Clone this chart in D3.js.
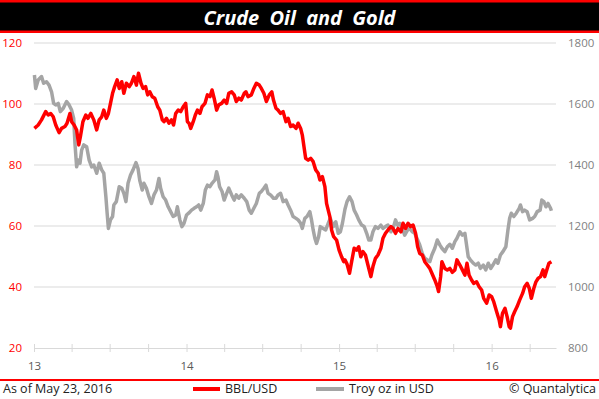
<!DOCTYPE html>
<html>
<head>
<meta charset="utf-8">
<script src="https://cdn.jsdelivr.net/npm/d3@7"></script>
<style>
  body { margin: 0; background: #fff; }
  text { font-family: "Open Sans", "Noto Sans", sans-serif; }
</style>
</head>
<body>
<svg id="chart"></svg>
<script>
// Crude oil, BBL/USD (date, close)
const oilData = [
  ["2013-01-02", 92.0], ["2013-01-11", 93.1], ["2013-01-19", 94.8], ["2013-01-29", 97.5],
  ["2013-02-04", 96.4], ["2013-02-10", 96.9], ["2013-02-16", 95.8], ["2013-02-22", 93.1],
  ["2013-03-02", 90.6], ["2013-03-08", 92.0], ["2013-03-16", 92.6], ["2013-03-21", 93.7],
  ["2013-03-28", 96.9], ["2013-04-01", 94.2], ["2013-04-07", 93.1], ["2013-04-13", 91.5],
  ["2013-04-18", 86.6], ["2013-04-22", 89.3], ["2013-04-28", 94.2], ["2013-05-05", 96.4],
  ["2013-05-10", 95.3], ["2013-05-17", 96.9], ["2013-05-24", 94.8], ["2013-05-31", 91.5],
  ["2013-06-06", 94.8], ["2013-06-12", 95.8], ["2013-06-17", 98.0], ["2013-06-23", 95.3],
  ["2013-06-28", 96.9], ["2013-07-03", 100.2], ["2013-07-08", 103.5], ["2013-07-13", 105.7],
  ["2013-07-19", 107.9], ["2013-07-24", 105.1], ["2013-07-30", 107.3], ["2013-08-04", 103.5],
  ["2013-08-10", 106.8], ["2013-08-17", 105.7], ["2013-08-22", 106.8], ["2013-08-28", 109.0],
  ["2013-09-03", 106.2], ["2013-09-08", 110.1], ["2013-09-14", 106.8], ["2013-09-19", 105.1],
  ["2013-09-25", 105.7], ["2013-09-30", 103.0], ["2013-10-05", 104.0], ["2013-10-11", 102.4],
  ["2013-10-17", 101.9], ["2013-10-24", 99.1], ["2013-10-29", 98.0], ["2013-11-04", 94.8],
  ["2013-11-08", 94.2], ["2013-11-14", 95.3], ["2013-11-20", 93.7], ["2013-11-26", 94.8],
  ["2013-12-01", 93.1], ["2013-12-06", 96.9], ["2013-12-12", 98.0], ["2013-12-18", 97.5],
  ["2013-12-24", 99.1], ["2013-12-30", 100.2], ["2014-01-03", 94.2], ["2014-01-07", 93.7],
  ["2014-01-11", 92.0], ["2014-01-17", 94.2], ["2014-01-22", 96.4], ["2014-01-27", 98.0],
  ["2014-02-02", 96.9], ["2014-02-07", 99.1], ["2014-02-14", 100.2], ["2014-02-20", 103.0],
  ["2014-02-26", 102.4], ["2014-03-03", 104.6], ["2014-03-08", 101.9], ["2014-03-14", 98.0],
  ["2014-03-19", 99.7], ["2014-03-26", 100.2], ["2014-04-01", 101.3], ["2014-04-07", 100.2],
  ["2014-04-12", 103.5], ["2014-04-19", 104.0], ["2014-04-25", 103.0], ["2014-04-30", 100.8],
  ["2014-05-06", 101.9], ["2014-05-12", 101.3], ["2014-05-19", 103.5], ["2014-05-23", 104.0],
  ["2014-05-28", 102.4], ["2014-06-05", 103.0], ["2014-06-11", 105.1], ["2014-06-17", 106.8],
  ["2014-06-24", 106.2], ["2014-06-29", 105.1], ["2014-07-05", 103.5], ["2014-07-11", 100.8],
  ["2014-07-18", 103.0], ["2014-07-24", 104.0], ["2014-07-28", 101.3], ["2014-08-03", 98.6],
  ["2014-08-08", 98.0], ["2014-08-14", 96.9], ["2014-08-20", 97.5], ["2014-08-27", 94.2],
  ["2014-09-01", 95.3], ["2014-09-07", 92.6], ["2014-09-13", 93.1], ["2014-09-20", 92.0],
  ["2014-09-25", 93.7], ["2014-10-01", 92.0], ["2014-10-05", 89.8], ["2014-10-09", 86.0],
  ["2014-10-13", 82.2], ["2014-10-19", 81.6], ["2014-10-25", 82.2], ["2014-10-31", 81.1],
  ["2014-11-06", 78.4], ["2014-11-12", 77.3], ["2014-11-16", 75.1], ["2014-11-22", 76.2],
  ["2014-11-28", 72.9], ["2014-12-02", 67.4], ["2014-12-06", 65.2], ["2014-12-10", 63.0],
  ["2014-12-14", 58.7], ["2014-12-19", 56.5], ["2014-12-26", 55.4], ["2015-01-01", 52.1],
  ["2015-01-07", 49.9], ["2015-01-12", 48.3], ["2015-01-15", 48.9], ["2015-01-20", 47.5],
  ["2015-01-26", 44.5], ["2015-01-31", 48.3], ["2015-02-06", 52.7], ["2015-02-12", 52.1],
  ["2015-02-17", 53.2], ["2015-02-22", 49.9], ["2015-02-27", 51.6], ["2015-03-05", 50.5],
  ["2015-03-11", 47.2], ["2015-03-18", 43.4], ["2015-03-23", 46.7], ["2015-03-29", 49.4],
  ["2015-04-04", 50.5], ["2015-04-11", 52.7], ["2015-04-16", 56.0], ["2015-04-22", 57.6],
  ["2015-04-28", 58.7], ["2015-05-05", 59.8], ["2015-05-10", 59.2], ["2015-05-16", 57.6],
  ["2015-05-22", 59.2], ["2015-05-29", 58.1], ["2015-06-03", 60.9], ["2015-06-09", 59.2],
  ["2015-06-15", 60.9], ["2015-06-21", 59.8], ["2015-06-27", 60.3], ["2015-07-03", 57.6],
  ["2015-07-08", 53.2], ["2015-07-13", 51.0], ["2015-07-19", 50.5], ["2015-07-25", 48.3],
  ["2015-07-31", 47.2], ["2015-08-06", 46.1], ["2015-08-11", 44.5], ["2015-08-18", 42.3],
  ["2015-08-24", 40.1], ["2015-08-27", 38.5], ["2015-09-01", 43.4], ["2015-09-04", 48.3],
  ["2015-09-11", 46.1], ["2015-09-17", 45.6], ["2015-09-23", 46.1], ["2015-09-29", 44.8],
  ["2015-10-05", 45.6], ["2015-10-10", 48.9], ["2015-10-17", 47.2], ["2015-10-23", 45.6],
  ["2015-10-29", 43.9], ["2015-11-03", 47.8], ["2015-11-08", 43.9], ["2015-11-14", 42.3],
  ["2015-11-19", 41.2], ["2015-11-26", 41.7], ["2015-12-02", 40.1], ["2015-12-08", 39.0],
  ["2015-12-13", 36.3], ["2015-12-20", 34.7], ["2015-12-26", 37.4], ["2016-01-01", 36.8],
  ["2016-01-06", 35.2], ["2016-01-13", 31.9], ["2016-01-19", 29.2], ["2016-01-22", 27.0],
  ["2016-01-27", 31.4], ["2016-02-02", 33.0], ["2016-02-07", 30.3], ["2016-02-12", 27.0],
  ["2016-02-15", 26.5], ["2016-02-20", 30.3], ["2016-02-25", 31.9], ["2016-03-02", 33.6],
  ["2016-03-08", 35.7], ["2016-03-15", 37.9], ["2016-03-20", 40.1], ["2016-03-26", 41.2],
  ["2016-03-31", 39.6], ["2016-04-05", 36.3], ["2016-04-11", 39.6], ["2016-04-16", 41.7],
  ["2016-04-21", 42.8], ["2016-04-27", 43.4], ["2016-05-03", 45.6], ["2016-05-07", 43.4],
  ["2016-05-13", 46.1], ["2016-05-17", 47.8], ["2016-05-23", 48.3]
];

// Gold, troy oz in USD (date, close)
const goldData = [
  ["2013-01-02", 1695], ["2013-01-05", 1651], ["2013-01-11", 1679], ["2013-01-19", 1690],
  ["2013-01-24", 1668], ["2013-01-31", 1673], ["2013-02-06", 1662], ["2013-02-12", 1640],
  ["2013-02-17", 1602], ["2013-02-22", 1597], ["2013-02-28", 1602], ["2013-03-05", 1575],
  ["2013-03-12", 1586], ["2013-03-20", 1608], ["2013-03-26", 1597], ["2013-04-01", 1580],
  ["2013-04-06", 1553], ["2013-04-09", 1471], ["2013-04-13", 1394], ["2013-04-17", 1416],
  ["2013-04-21", 1406], ["2013-04-25", 1449], ["2013-04-30", 1466], ["2013-05-07", 1460],
  ["2013-05-13", 1416], ["2013-05-19", 1394], ["2013-05-24", 1400], ["2013-05-31", 1373],
  ["2013-06-06", 1406], ["2013-06-12", 1384], ["2013-06-17", 1373], ["2013-06-22", 1296],
  ["2013-06-25", 1242], ["2013-06-28", 1192], ["2013-07-03", 1220], ["2013-07-08", 1231],
  ["2013-07-11", 1269], ["2013-07-17", 1280], ["2013-07-24", 1329], ["2013-07-30", 1324],
  ["2013-08-04", 1307], ["2013-08-09", 1280], ["2013-08-14", 1340], ["2013-08-20", 1367],
  ["2013-08-26", 1384], ["2013-09-02", 1408], ["2013-09-07", 1388], ["2013-09-11", 1350],
  ["2013-09-17", 1318], ["2013-09-21", 1340], ["2013-09-27", 1324], ["2013-10-03", 1296],
  ["2013-10-09", 1274], ["2013-10-15", 1302], ["2013-10-21", 1318], ["2013-10-27", 1356],
  ["2013-10-31", 1324], ["2013-11-06", 1296], ["2013-11-12", 1285], ["2013-11-18", 1263],
  ["2013-11-24", 1247], ["2013-11-30", 1231], ["2013-12-06", 1236], ["2013-12-10", 1263],
  ["2013-12-16", 1220], ["2013-12-21", 1198], ["2013-12-26", 1209], ["2014-01-01", 1236],
  ["2014-01-06", 1242], ["2014-01-13", 1252], ["2014-01-19", 1258], ["2014-01-25", 1263],
  ["2014-01-30", 1269], ["2014-02-04", 1252], ["2014-02-10", 1274], ["2014-02-15", 1318],
  ["2014-02-20", 1334], ["2014-02-26", 1329], ["2014-03-03", 1340], ["2014-03-10", 1351],
  ["2014-03-14", 1378], ["2014-03-17", 1362], ["2014-03-21", 1329], ["2014-03-27", 1313],
  ["2014-04-01", 1285], ["2014-04-07", 1307], ["2014-04-12", 1324], ["2014-04-19", 1302],
  ["2014-04-25", 1285], ["2014-04-30", 1302], ["2014-05-06", 1291], ["2014-05-12", 1302],
  ["2014-05-19", 1291], ["2014-05-25", 1280], ["2014-05-31", 1252], ["2014-06-05", 1242],
  ["2014-06-11", 1258], ["2014-06-17", 1274], ["2014-06-24", 1307], ["2014-06-29", 1313],
  ["2014-07-05", 1324], ["2014-07-10", 1334], ["2014-07-15", 1307], ["2014-07-21", 1302],
  ["2014-07-28", 1291], ["2014-08-03", 1291], ["2014-08-08", 1302], ["2014-08-14", 1307],
  ["2014-08-20", 1280], ["2014-08-27", 1285], ["2014-09-01", 1269], ["2014-09-07", 1252],
  ["2014-09-13", 1231], ["2014-09-20", 1225], ["2014-09-25", 1220], ["2014-10-01", 1209],
  ["2014-10-05", 1192], ["2014-10-11", 1225], ["2014-10-16", 1231], ["2014-10-23", 1247],
  ["2014-10-27", 1220], ["2014-10-31", 1187], ["2014-11-04", 1160], ["2014-11-08", 1143],
  ["2014-11-13", 1165], ["2014-11-17", 1198], ["2014-11-24", 1192], ["2014-11-30", 1187],
  ["2014-12-06", 1209], ["2014-12-11", 1225], ["2014-12-18", 1198], ["2014-12-24", 1214],
  ["2014-12-30", 1176], ["2015-01-04", 1181], ["2015-01-09", 1209], ["2015-01-15", 1255],
  ["2015-01-20", 1280], ["2015-01-26", 1296], ["2015-02-01", 1280], ["2015-02-06", 1252],
  ["2015-02-12", 1236], ["2015-02-17", 1220], ["2015-02-24", 1203], ["2015-03-02", 1198],
  ["2015-03-08", 1176], ["2015-03-13", 1154], ["2015-03-18", 1154], ["2015-03-23", 1181],
  ["2015-03-29", 1198], ["2015-04-04", 1192], ["2015-04-11", 1203], ["2015-04-16", 1192],
  ["2015-04-22", 1198], ["2015-04-28", 1203], ["2015-05-05", 1181], ["2015-05-10", 1192],
  ["2015-05-16", 1220], ["2015-05-21", 1203], ["2015-05-26", 1209], ["2015-06-01", 1192],
  ["2015-06-07", 1170], ["2015-06-14", 1187], ["2015-06-19", 1192], ["2015-06-25", 1181],
  ["2015-07-01", 1176], ["2015-07-08", 1154], ["2015-07-13", 1138], ["2015-07-19", 1110],
  ["2015-07-25", 1094], ["2015-07-31", 1089], ["2015-08-06", 1083], ["2015-08-11", 1105],
  ["2015-08-18", 1127], ["2015-08-24", 1154], ["2015-08-30", 1138], ["2015-09-04", 1127],
  ["2015-09-11", 1116], ["2015-09-17", 1132], ["2015-09-23", 1140], ["2015-09-29", 1127],
  ["2015-10-05", 1149], ["2015-10-10", 1160], ["2015-10-17", 1181], ["2015-10-23", 1170],
  ["2015-10-29", 1176], ["2015-11-02", 1138], ["2015-11-06", 1099], ["2015-11-11", 1089],
  ["2015-11-18", 1078], ["2015-11-24", 1072], ["2015-11-30", 1078], ["2015-12-05", 1061],
  ["2015-12-12", 1072], ["2015-12-18", 1056], ["2015-12-24", 1078], ["2015-12-30", 1061],
  ["2016-01-04", 1072], ["2016-01-11", 1089], ["2016-01-16", 1078], ["2016-01-22", 1105],
  ["2016-01-28", 1116], ["2016-02-04", 1132], ["2016-02-09", 1187], ["2016-02-13", 1225],
  ["2016-02-17", 1242], ["2016-02-23", 1231], ["2016-02-29", 1242], ["2016-03-07", 1258],
  ["2016-03-10", 1269], ["2016-03-15", 1247], ["2016-03-20", 1252], ["2016-03-26", 1247],
  ["2016-04-01", 1220], ["2016-04-08", 1225], ["2016-04-13", 1231], ["2016-04-19", 1247],
  ["2016-04-26", 1252], ["2016-04-30", 1285], ["2016-05-05", 1280], ["2016-05-10", 1263],
  ["2016-05-15", 1274], ["2016-05-21", 1258], ["2016-05-23", 1250]
];

// Axis tick labels
const oilTicks = [20, 40, 60, 80, 100, 120];
const goldTicks = [800, 1000, 1200, 1400, 1600, 1800];
const yearLabels = ["13", "14", "15", "16"];

const width = 599;
const height = 399;
const margin = { top: 43, right: 43, bottom: 51, left: 34 };

const parseDate = d3.timeParse("%Y-%m-%d");
const oil = oilData.map(([d, v]) => ({ date: parseDate(d), value: v }));
const gold = goldData.map(([d, v]) => ({ date: parseDate(d), value: v }));

const svg = d3.select("#chart")
  .attr("width", width)
  .attr("height", height);

svg.append("rect")
  .attr("width", width)
  .attr("height", height)
  .attr("fill", "#fff");

// Title bar
svg.append("rect")
  .attr("x", 0).attr("y", 0)
  .attr("width", width).attr("height", 33)
  .attr("fill", "#ff0000");

svg.append("rect")
  .attr("x", 0).attr("y", 2.5)
  .attr("width", width).attr("height", 28)
  .attr("fill", "#000");

svg.append("text")
  .attr("x", width / 2)
  .attr("y", 25)
  .attr("text-anchor", "middle")
  .attr("fill", "#fff")
  .style("font-size", "20px")
  .style("font-weight", "bold")
  .style("font-style", "italic")
  .style("word-spacing", "5px")
  .text("Crude Oil and Gold");

// Scales
const x = d3.scaleTime()
  .domain([parseDate("2013-01-01"), parseDate("2016-06-03")])
  .range([margin.left, width - margin.right]);

const yOil = d3.scaleLinear()
  .domain([20, 120])
  .range([height - margin.bottom, margin.top]);

const yGold = d3.scaleLinear()
  .domain([800, 1800])
  .range([height - margin.bottom, margin.top]);

// Gridlines
svg.append("g")
  .selectAll("line")
  .data(oilTicks.slice(1))
  .join("line")
  .attr("x1", margin.left)
  .attr("x2", width - margin.right)
  .attr("y1", (d) => yOil(d))
  .attr("y2", (d) => yOil(d))
  .attr("stroke", "#d9d9d9")
  .attr("stroke-width", 1);

// Left axis labels (oil)
svg.append("g")
  .attr("transform", `translate(22,0)`)
  .call(d3.axisLeft(yOil).tickValues(oilTicks).tickFormat(d3.format("d")).tickSize(0).tickPadding(0))
  .call((g) => g.select(".domain").remove())
  .selectAll("text")
  .attr("fill", "#ff0000")
  .style("font-size", "11.5px")
  .style("font-family", "'Open Sans', sans-serif");

// Right axis labels (gold)
svg.append("g")
  .attr("transform", `translate(568,0)`)
  .call(d3.axisRight(yGold).tickValues(goldTicks).tickFormat(d3.format("d")).tickSize(0).tickPadding(0))
  .call((g) => g.select(".domain").remove())
  .selectAll("text")
  .attr("fill", "#7f7f7f")
  .style("font-size", "11.5px")
  .style("font-family", "'Open Sans', sans-serif");

// Bottom axis, quarterly ticks, year labels on January
const quarters = d3.timeMonth.every(3).range(x.domain()[0], x.domain()[1]);
const xAxis = svg.append("g")
  .attr("transform", `translate(0,${height - margin.bottom})`)
  .call(d3.axisBottom(x)
    .tickValues(quarters)
    .tickSize(4)
    .tickSizeOuter(0)
    .tickFormat((d) => (d.getMonth() === 0 ? yearLabels[d.getFullYear() - 2013] : "")));

xAxis.select(".domain").attr("stroke", "#d9d9d9");
xAxis.selectAll(".tick line")
  .attr("y1", -4)
  .attr("y2", 4)
  .attr("stroke", "#d9d9d9");
xAxis.selectAll(".tick text")
  .attr("y", 14)
  .attr("fill", "#595959")
  .style("font-size", "11.5px")
  .style("font-family", "'Open Sans', sans-serif");

// Lines
const oilLine = d3.line()
  .x((d) => x(d.date))
  .y((d) => yOil(d.value));

const goldLine = d3.line()
  .x((d) => x(d.date))
  .y((d) => yGold(d.value));

svg.append("path")
  .datum(gold)
  .attr("d", goldLine)
  .attr("fill", "none")
  .attr("stroke", "#a5a5a5")
  .attr("stroke-width", 3.5)
  .attr("stroke-linejoin", "round");

svg.append("path")
  .datum(oil)
  .attr("d", oilLine)
  .attr("fill", "none")
  .attr("stroke", "#ff0000")
  .attr("stroke-width", 3.5)
  .attr("stroke-linejoin", "round");

// Footer
svg.append("rect")
  .attr("x", 0).attr("y", 379)
  .attr("width", width).attr("height", 2)
  .attr("fill", "#ff0000");

const footer = svg.append("g").style("font-size", "12.5px").attr("fill", "#222");

footer.append("text").attr("x", 3).attr("y", 393).text("As of May 23, 2016");

footer.append("line")
  .attr("x1", 193).attr("x2", 220).attr("y1", 389).attr("y2", 389)
  .attr("stroke", "#ff0000").attr("stroke-width", 4);
footer.append("text").attr("x", 225).attr("y", 393).text("BBL/USD");

footer.append("line")
  .attr("x1", 316).attr("x2", 344).attr("y1", 389).attr("y2", 389)
  .attr("stroke", "#a5a5a5").attr("stroke-width", 4);
footer.append("text").attr("x", 349).attr("y", 393).text("Troy oz in USD");

footer.append("text")
  .attr("x", 596).attr("y", 393)
  .attr("text-anchor", "end")
  .text("© Quantalytica");
</script>
</body>
</html>
